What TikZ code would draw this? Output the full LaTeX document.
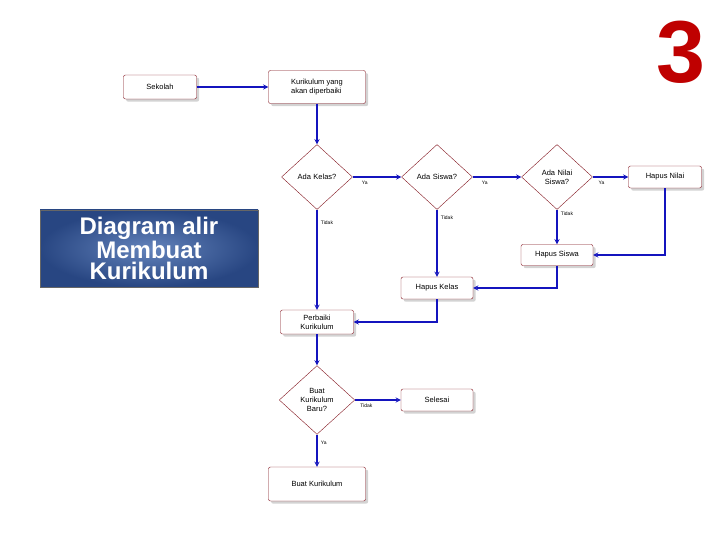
\documentclass[tikz,border=0pt]{standalone}
\usepackage{fontspec}
\setmainfont{Liberation Sans}
\usepackage{tikz}
\usetikzlibrary{shapes,arrows,calc,shadows}
\definecolor{flowblue}{RGB}{20,20,190}
\definecolor{boxred}{RGB}{130,20,30}
\definecolor{steel}{RGB}{60,100,170}
\definecolor{steeldark}{RGB}{40,70,130}
\tikzstyle{line} = [draw, flowblue, line width=1.3pt, -stealth]
\tikzstyle{block} = [draw=boxred, fill=white, rectangle, rounded corners=2pt, text centered, font=\fontsize{7.5}{9}\selectfont, drop shadow={opacity=0.35}]
\tikzstyle{decision} = [draw=boxred, fill=white, diamond, aspect=1.1, text width=5em, text centered, inner sep=0pt, minimum width=71pt, minimum height=65pt, font=\fontsize{7.5}{9}\selectfont]
\tikzstyle{lbl} = [text=black, font=\fontsize{5}{6}\selectfont]
\begin{document}
\begin{tikzpicture}[x=1pt, y=-1pt]
        \useasboundingbox (0,0) rectangle (720,540);
        \node[block, minimum width=73pt, minimum height=24pt] (school) at (160,87) {Sekolah};
        \node[block, minimum width=97pt, minimum height=33pt, align=left] (curr) at (317,87) {Kurikulum yang\\akan diperbaiki};
        \node[decision] (hasclass) at (317,177) {Ada Kelas?};
        \node[decision] (hasstudent) at (437,177) {Ada Siswa?};
        \node[decision] (hasgrade) at (557,177) {Ada Nilai\\Siswa?};
        \node[block, minimum width=73pt, minimum height=22pt] (delgrade) at (665,177) {Hapus Nilai};
        \node[block, minimum width=72pt, minimum height=21pt] (delstudent) at (557,255) {Hapus Siswa};
        \node[block, minimum width=72pt, minimum height=22pt] (delclass) at (437,288) {Hapus Kelas};
        \node[block, minimum width=73pt, minimum height=24pt, align=center] (fix) at (317,322) {Perbaiki\\Kurikulum};
        \node[decision] (newcurr) at (317,400) {Buat\\Kurikulum\\Baru?};
        \node[block, minimum width=72pt, minimum height=22pt] (done) at (437,400) {Selesai};
        \node[block, minimum width=97pt, minimum height=34pt] (make) at (317,484) {Buat Kurikulum};
        % title and number
        \node[draw=black!60, outer color=steeldark, inner color=steel!80!white, minimum width=218pt, minimum height=77pt, text=white, font=\bfseries\fontsize{24}{21}\selectfont, align=center] (title) at (149,248.5) {Diagram alir\\Membuat\\Kurikulum};
        \node[text=red!75!black, font=\bfseries\fontsize{88}{88}\selectfont] (num) at (681,52) {3};
        \path[line] (school) -- (curr);
        \path[line] (curr) -- (hasclass);
        \path[line] (hasclass) -- node[lbl, below, near start] {Ya} (hasstudent);
        \path[line] (hasstudent) -- node[lbl, below, near start] {Ya} (hasgrade);
        \path[line] (hasgrade) -- node[lbl, below, near start] {Ya} (delgrade);
        \path[line] (hasgrade) -- node[lbl, right, very near start] {Tidak} (delstudent);
        \path[line] (delgrade) |- (delstudent);
        \path[line] (hasstudent) -- node[lbl, right, very near start] {Tidak} (delclass);
        \path[line] (delstudent) |- (delclass);
        \path[line] (hasclass) -- node[lbl, right, very near start] {Tidak} (fix);
        \path[line] (delclass) |- (fix);
        \path[line] (fix) -- (newcurr);
        \path[line] (newcurr) -- node[lbl, below, near start] {Tidak} (done);
        \path[line] (newcurr) -- node[lbl, right, near start] {Ya} (make);
    \end{tikzpicture}
\end{document}
